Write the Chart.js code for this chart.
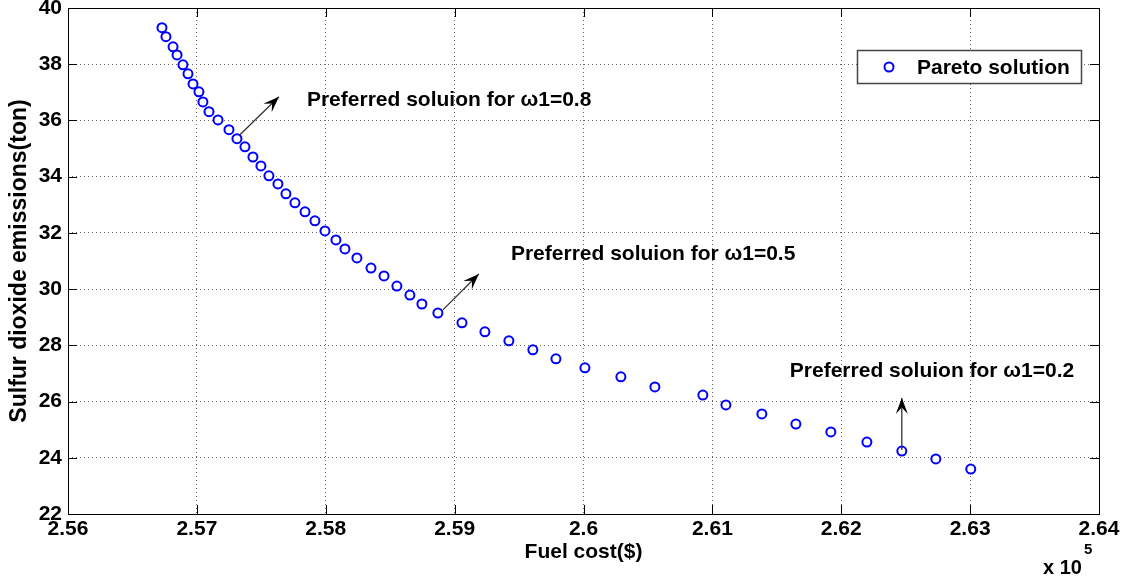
<!DOCTYPE html>
<html>
<head>
<meta charset="utf-8">
<script src="https://cdn.jsdelivr.net/npm/chart.js@4.4.1/dist/chart.umd.min.js"></script>
<style>
  html, body { margin: 0; padding: 0; background: #fff; }
  #wrap { width: 1121px; height: 582px; }
</style>
</head>
<body>
<div id="wrap"><canvas id="c"></canvas></div>
<script>
// Pareto front: fuel cost ($) vs SO2 emissions (ton)
const fuelCost = [
    256729, 256760, 256815, 256846, 256892, 256931, 256970, 257016, 257047, 257094,
    257164, 257249, 257311, 257373, 257435, 257497, 257559, 257629, 257691, 257761,
    257839, 257916, 257994, 258079, 258149, 258242, 258351, 258452, 258552, 258653,
    258746, 258870, 259057, 259235, 259421, 259607, 259786, 260011, 260290, 260554,
    260926, 261105, 261384, 261648, 261919, 262199, 262470, 262734, 263005
];
const emissions = [
    39.30, 38.98, 38.62, 38.33, 37.98, 37.66, 37.30, 37.02, 36.66, 36.31,
    36.02, 35.67, 35.35, 35.06, 34.70, 34.38, 34.03, 33.74, 33.39, 33.07,
    32.75, 32.43, 32.07, 31.75, 31.43, 31.11, 30.75, 30.47, 30.11, 29.79,
    29.47, 29.15, 28.80, 28.48, 28.16, 27.84, 27.52, 27.20, 26.88, 26.52,
    26.23, 25.88, 25.56, 25.20, 24.92, 24.56, 24.24, 23.96, 23.60
];
const xTicks = [256000, 257000, 258000, 259000, 260000, 261000, 262000, 263000, 264000];
const yTicks = [22, 24, 26, 28, 30, 32, 34, 36, 38, 40];

const noteTexts = [
    'Preferred soluion for \u03c91=0.8',
    'Preferred soluion for \u03c91=0.5',
    'Preferred soluion for \u03c91=0.2'
];
// arrow start, arrow tip and text anchor, in data units
const noteArrowFrom = [[257334, 35.49], [258909, 29.26], [262470, 24.28]];
const noteArrowTo = [[257637, 36.84], [259188, 30.54], [262470, 26.13]];
const noteTextAt = [[257854, 36.73], [259437, 31.25], [261601, 27.09]];

const FONT = "'Liberation Sans', Arial, sans-serif";

function arrow(ctx, x0, y0, x1, y1) {
    ctx.strokeStyle = '#333';
    ctx.lineWidth = 1.3;
    ctx.beginPath();
    ctx.moveTo(x0, y0);
    ctx.lineTo(x1, y1);
    ctx.stroke();
    const ang = Math.atan2(y1 - y0, x1 - x0);
    const len = 16, half = 6;
    const bx = x1 - len * Math.cos(ang), by = y1 - len * Math.sin(ang);
    const nx = -Math.sin(ang), ny = Math.cos(ang);
    ctx.fillStyle = '#000';
    ctx.beginPath();
    ctx.moveTo(x1, y1);
    ctx.lineTo(bx + nx * half, by + ny * half);
    ctx.lineTo(x1 - len * 0.6 * Math.cos(ang), y1 - len * 0.6 * Math.sin(ang));
    ctx.lineTo(bx - nx * half, by - ny * half);
    ctx.closePath();
    ctx.fill();
}

const overlay = {
    id: 'overlay',
    afterDraw(chart) {
        const ctx = chart.ctx;
        const a = chart.chartArea;
        const xs = chart.scales.x, ys = chart.scales.y;
        ctx.save();

        // box round the plot
        ctx.strokeStyle = '#000';
        ctx.lineWidth = 1;
        ctx.strokeRect(Math.round(a.left) + 0.5, Math.round(a.top) + 0.5,
            Math.round(a.width), Math.round(a.height));

        // inward tick marks on all four sides
        ctx.beginPath();
        xTicks.forEach(v => {
            const px = Math.round(xs.getPixelForValue(v)) + 0.5;
            ctx.moveTo(px, a.bottom); ctx.lineTo(px, a.bottom - 9);
            ctx.moveTo(px, a.top); ctx.lineTo(px, a.top + 9);
        });
        yTicks.forEach(v => {
            const py = Math.round(ys.getPixelForValue(v)) + 0.5;
            ctx.moveTo(a.left, py); ctx.lineTo(a.left + 9, py);
            ctx.moveTo(a.right, py); ctx.lineTo(a.right - 9, py);
        });
        ctx.stroke();

        // annotations
        ctx.font = 'bold 21px ' + FONT;
        ctx.textBaseline = 'middle';
        ctx.textAlign = 'left';
        noteTexts.forEach((t, i) => {
            arrow(ctx,
                xs.getPixelForValue(noteArrowFrom[i][0]), ys.getPixelForValue(noteArrowFrom[i][1]),
                xs.getPixelForValue(noteArrowTo[i][0]), ys.getPixelForValue(noteArrowTo[i][1]));
            ctx.fillStyle = '#000';
            ctx.fillText(t, xs.getPixelForValue(noteTextAt[i][0]), ys.getPixelForValue(noteTextAt[i][1]));
        });

        // legend
        ctx.fillStyle = '#fff';
        ctx.fillRect(857, 50, 224, 33);
        ctx.strokeStyle = '#444';
        ctx.lineWidth = 1.5;
        ctx.strokeRect(857.5, 50.5, 224, 33);
        ctx.strokeStyle = '#0000ff';
        ctx.lineWidth = 2;
        ctx.beginPath();
        ctx.arc(889, 67, 4.5, 0, Math.PI * 2);
        ctx.stroke();
        ctx.fillStyle = '#000';
        ctx.font = 'bold 21px ' + FONT;
        ctx.fillText('Pareto solution', 917, 68);

        // exponent label
        ctx.font = 'bold 20px ' + FONT;
        ctx.fillText('x 10', 1043, 568);
        ctx.font = 'bold 15px ' + FONT;
        ctx.fillText('5', 1084, 550);

        ctx.restore();
    }
};

new Chart(document.getElementById('c'), {
    type: 'scatter',
    data: {
        datasets: [{
            label: 'Pareto solution',
            data: fuelCost.map((v, i) => ({ x: v, y: emissions[i] })),
            pointStyle: 'circle',
            pointRadius: 4.5,
            pointHoverRadius: 4.5,
            pointBorderWidth: 2,
            pointBorderColor: '#0000ff',
            pointBackgroundColor: '#ffffff',
            showLine: false
        }]
    },
    options: {
        responsive: true,
        maintainAspectRatio: false,
        animation: false,
        layout: { padding: { top: 8, right: 22, left: 0, bottom: 0 } },
        plugins: {
            legend: { display: false },
            tooltip: { enabled: false }
        },
        scales: {
            x: {
                type: 'linear',
                min: 256000,
                max: 264000,
                afterBuildTicks: s => { s.ticks = xTicks.map(v => ({ value: v })); },
                afterFit: s => { s.height = 68; s.paddingLeft = 0; s.paddingRight = 0; },
                ticks: {
                    maxRotation: 0,
                    padding: 3,
                    color: '#000',
                    font: { family: FONT, size: 21, weight: 'bold' },
                    callback: v => String(Math.round(v / 10) / 10000)
                },
                grid: {
                    color: '#666',
                    lineWidth: 1,
                    drawTicks: false
                },
                border: { display: false, dash: [1, 3] },
                title: {
                    display: true,
                    text: 'Fuel cost($)',
                    color: '#000',
                    font: { family: FONT, size: 21, weight: 'bold' },
                    padding: { top: 0, bottom: 17 }
                }
            },
            y: {
                type: 'linear',
                min: 22,
                max: 40,
                afterBuildTicks: s => { s.ticks = yTicks.map(v => ({ value: v })); },
                afterFit: s => { s.width = 68; s.paddingTop = 0; s.paddingBottom = 0; },
                ticks: {
                    padding: 6,
                    color: '#000',
                    font: { family: FONT, size: 21, weight: 'bold' }
                },
                grid: {
                    color: '#666',
                    lineWidth: 1,
                    drawTicks: false
                },
                border: { display: false, dash: [1, 3] },
                title: {
                    display: true,
                    text: 'Sulfur dioxide emissions(ton)',
                    color: '#000',
                    font: { family: FONT, size: 23, weight: 'bold' },
                    padding: { top: 6, bottom: 0 }
                }
            }
        }
    },
    plugins: [overlay]
});
</script>
</body>
</html>
